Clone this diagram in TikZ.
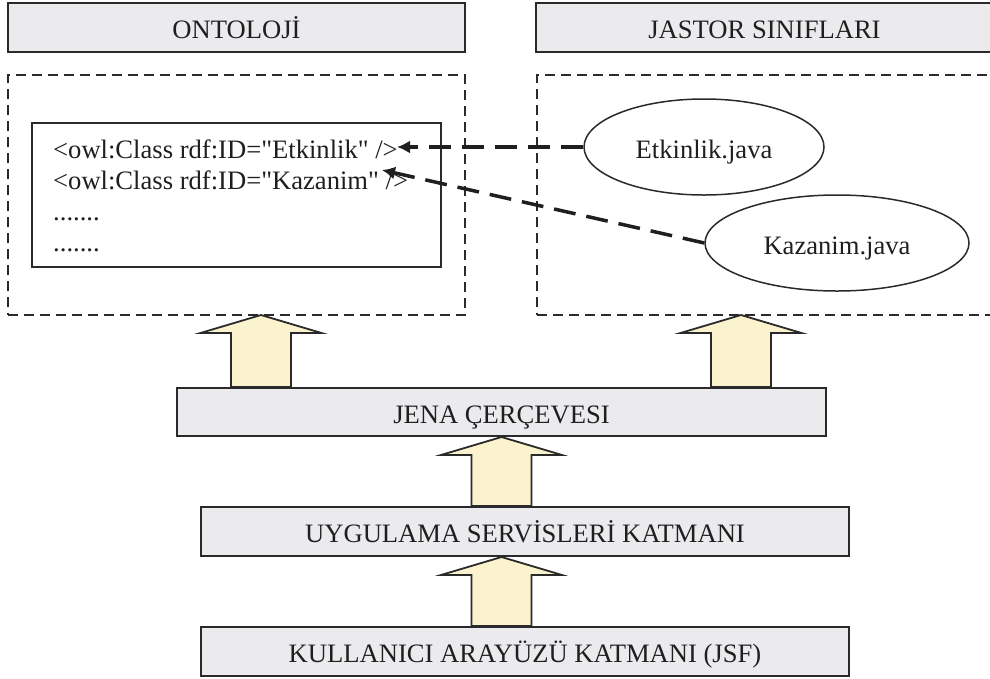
\documentclass[tikz,border=0pt]{standalone}
\usepackage{fontspec}
\setmainfont{Liberation Serif}[Ligatures=TeXOff]
\usetikzlibrary{arrows.meta,calc,shapes.geometric}

\definecolor{boxgray}{HTML}{EBEBEE}
\definecolor{arrowyellow}{HTML}{FAF3CD}
\definecolor{linegray}{HTML}{2A2A2A}

% wide arrow from a layer up to the one above it
\newcommand{\layerarrow}[2]{%
  \draw[uparrow] ($(#1)+(-30,0)$) -- ($(#2)+(-30,18)$) -- ($(#2)+(-60.5,18)$) -- (#2)
    -- ($(#2)+(60.5,18)$) -- ($(#2)+(30,18)$) -- ($(#1)+(30,0)$) -- cycle;}

\begin{document}
\begin{tikzpicture}[x=1pt, y=-1pt,
  every node/.style={font=\fontsize{26.6}{30.7}\selectfont, text=black!88},
  layer/.style={draw=linegray, line width=2pt, fill=boxgray, minimum height=49pt,
    text height=22pt, text depth=0pt},
  area/.style={draw=linegray, line width=1.3pt, dash pattern=on 10pt off 6pt,
    minimum width=457pt, minimum height=240pt},
  javafile/.style={draw=linegray, line width=1.5pt, ellipse, inner sep=0pt,
    minimum height=96pt, text height=22pt, text depth=0pt},
  link/.style={draw=black!88, line width=3.5pt, dash pattern=on 22pt off 11pt,
    -{Latex[length=13pt,width=13pt]}},
  uparrow/.style={draw=linegray, line width=1.8pt, fill=arrowyellow}]
\useasboundingbox (0,0) rectangle (990,678);

\node[layer, minimum width=457pt] (ontotitle) at (236.5,27.5) {ONTOLOJİ};
\node[layer, minimum width=457pt] (jastortitle) at (764.5,27.5) {JASTOR SINIFLARI};

\node[area] (ontobox) at (236.5,195) {};
\node[area] (jastorbox) at (765.5,195) {};

\node[draw=linegray, line width=2pt, minimum width=409pt, minimum height=144pt] (owlbox) at (236.5,195) {};
\node[anchor=north west, align=left, inner sep=0pt] (owltext) at (53,140)
  {<owl:Class rdf:ID="Etkinlik" />\\<owl:Class rdf:ID="Kazanim" />\\.......\\.......};

\node[javafile, minimum width=240pt] (etkinlik) at (704,147) {Etkinlik.java};
\node[javafile, minimum width=264pt] (kazanim) at (837,243) {Kazanim.java};

\coordinate (etkref) at (397,147);
\coordinate (kazref) at (382,170);
\draw[link] (etkinlik.west) -- (etkref);
\draw[link] (kazanim.west) -- (kazref);

\node[layer, minimum width=649pt, minimum height=48pt] (jena) at (501.5,412) {JENA ÇERÇEVESI};
\node[layer, minimum width=648pt] (servis) at (525,531.5) {UYGULAMA SERVİSLERİ KATMANI};
\node[layer, minimum width=648pt] (arayuz) at (525,651.5) {KULLANICI ARAYÜZÜ KATMANI (JSF)};

\coordinate (ontoin) at (261,315);
\coordinate (jastorin) at (741,315);
\layerarrow{jena.north -| ontoin}{ontoin}
\layerarrow{jena.north -| jastorin}{jastorin}
\layerarrow{servis.north -| jena.south}{jena.south}
\layerarrow{arayuz.north -| jena.south}{servis.south -| jena.south}

\end{tikzpicture}
\end{document}
